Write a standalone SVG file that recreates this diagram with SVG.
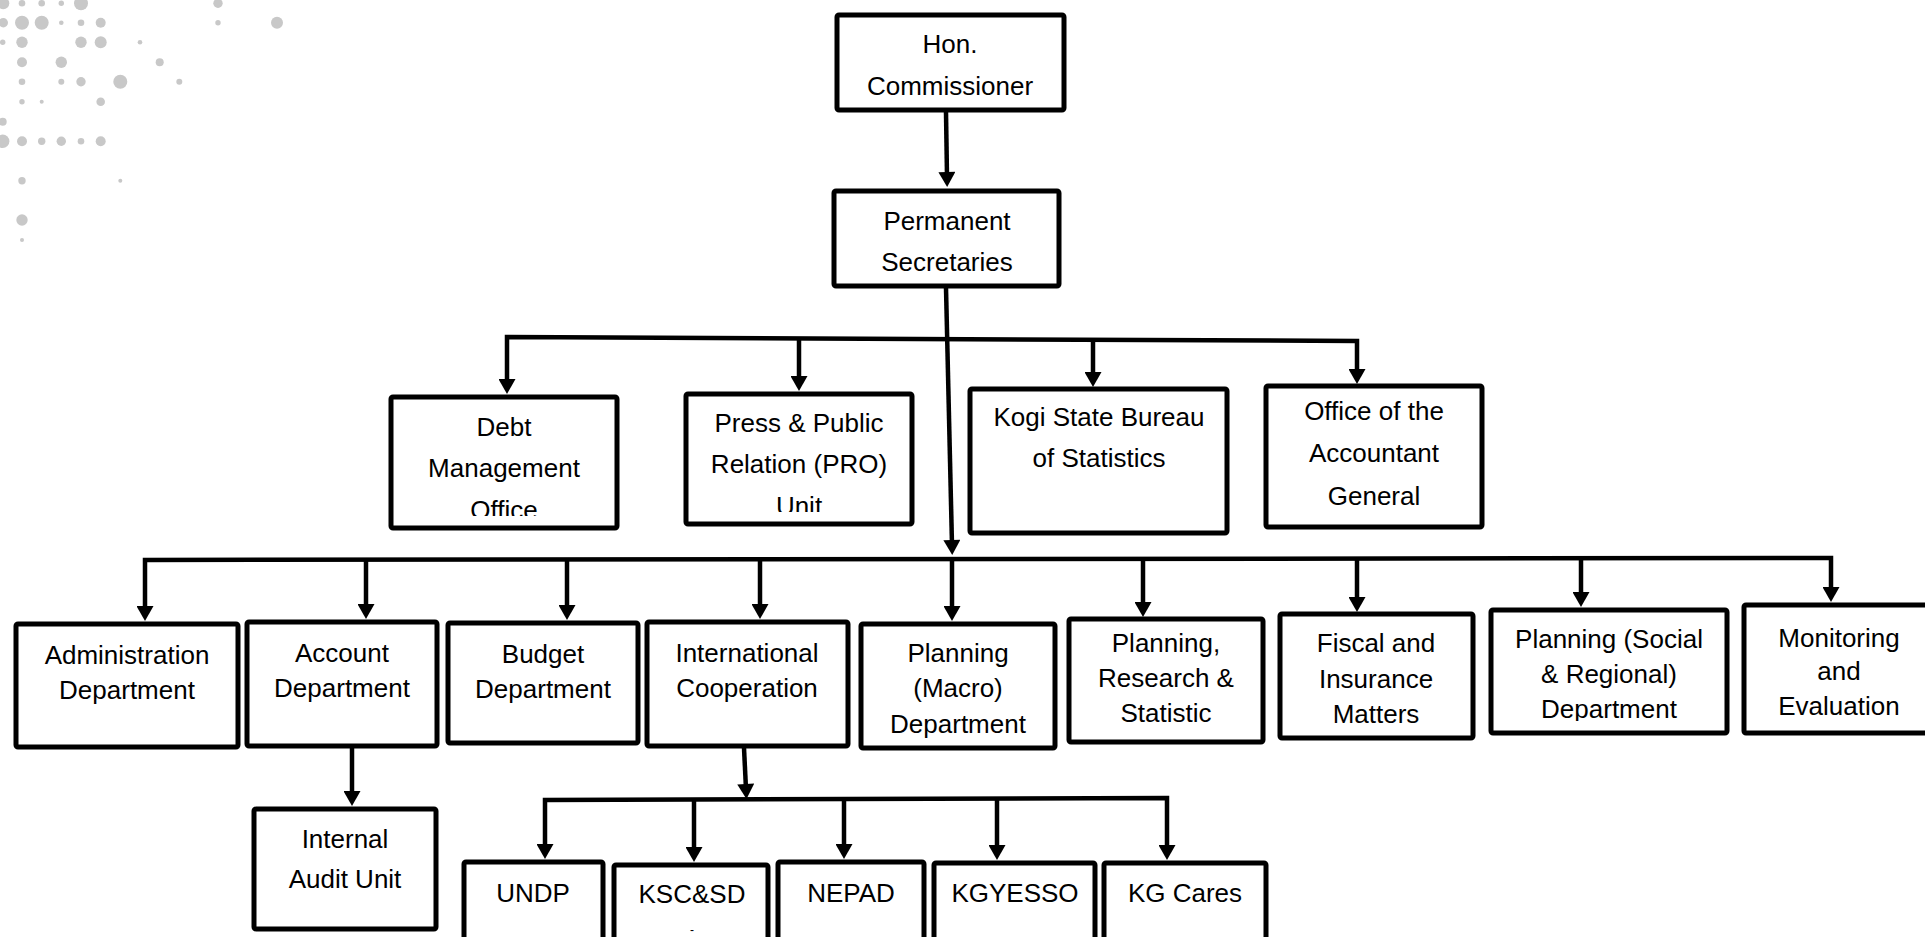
<svg xmlns="http://www.w3.org/2000/svg" width="1925" height="937" viewBox="0 0 1925 937">
<style>
.box{fill:#fff;stroke:#000;stroke-width:5}
.t{font-family:"Liberation Sans",Arial,sans-serif;font-size:26px;fill:#000;text-anchor:middle}
.c{fill:none;stroke:#000;stroke-width:4.5}
.dot{fill:#c8c8c8}
</style>
<defs>
<marker id="ah" markerUnits="userSpaceOnUse" markerWidth="17" markerHeight="17" refX="5" refY="8.5" orient="auto-start-reverse" viewBox="0 0 15 17">
<path d="M0,0 L15,8.5 L0,17 z" fill="#000"/>
</marker>
<clipPath id="clipDebt"><rect x="380" y="380" width="250" height="136"/></clipPath>
<clipPath id="clipPress"><rect x="680" y="380" width="240" height="132"/></clipPath>
<clipPath id="clipSocial"><rect x="1480" y="600" width="260" height="121"/></clipPath>
</defs>
<rect width="1925" height="937" fill="#fff"/>
<g id="background-dots">
<circle class="dot" cx="3.3" cy="3.3" r="6"/><circle class="dot" cx="22" cy="3.3" r="3.3"/><circle class="dot" cx="41.7" cy="3.3" r="3.3"/><circle class="dot" cx="61.3" cy="3.3" r="2.7"/><circle class="dot" cx="81" cy="3.3" r="7"/><circle class="dot" cx="218" cy="3.3" r="4.7"/>
<circle class="dot" cx="3.3" cy="22.7" r="4.7"/><circle class="dot" cx="22" cy="22.7" r="7"/><circle class="dot" cx="41.7" cy="22.7" r="7"/><circle class="dot" cx="61.3" cy="22.7" r="2.3"/><circle class="dot" cx="81" cy="22.7" r="3.3"/><circle class="dot" cx="100.7" cy="22.7" r="5"/><circle class="dot" cx="218" cy="22.7" r="2.7"/><circle class="dot" cx="277" cy="22.7" r="6"/>
<circle class="dot" cx="2.7" cy="42.3" r="2.7"/><circle class="dot" cx="22" cy="42.3" r="5.7"/><circle class="dot" cx="81" cy="42.3" r="5.7"/><circle class="dot" cx="100.7" cy="42.3" r="6"/><circle class="dot" cx="140" cy="42.3" r="2.3"/>
<circle class="dot" cx="22" cy="62.3" r="5"/><circle class="dot" cx="61.3" cy="62.3" r="5.7"/><circle class="dot" cx="159.7" cy="62.3" r="4"/>
<circle class="dot" cx="22" cy="81.7" r="3.3"/><circle class="dot" cx="61.3" cy="81.7" r="3"/><circle class="dot" cx="81" cy="81.7" r="4.7"/><circle class="dot" cx="120.3" cy="81.7" r="7"/><circle class="dot" cx="179.3" cy="81.7" r="3"/>
<circle class="dot" cx="22" cy="101.7" r="2.7"/><circle class="dot" cx="41.7" cy="101.7" r="2"/><circle class="dot" cx="100.7" cy="101.7" r="4.3"/>
<circle class="dot" cx="2.7" cy="121.7" r="4"/>
<circle class="dot" cx="2.7" cy="141.3" r="6.7"/><circle class="dot" cx="22" cy="141.3" r="5"/><circle class="dot" cx="41.7" cy="141.3" r="3.7"/><circle class="dot" cx="61.3" cy="141.3" r="4.7"/><circle class="dot" cx="81" cy="141.3" r="3.3"/><circle class="dot" cx="100.7" cy="141.3" r="5"/>
<circle class="dot" cx="22" cy="180.7" r="3.7"/><circle class="dot" cx="120.3" cy="180.7" r="2"/>
<circle class="dot" cx="22" cy="220" r="5.7"/>
<circle class="dot" cx="22" cy="240" r="2"/>
</g>
<g id="connectors">
<path class="c" d="M946,112 L947,177" marker-end="url(#ah)"/>
<path class="c" d="M946,288 L952,545" marker-end="url(#ah)"/>
<path class="c" d="M507,384 V337 L1357,341 V374" marker-start="url(#ah)" marker-end="url(#ah)"/>
<path class="c" d="M799,338 V381" marker-end="url(#ah)"/>
<path class="c" d="M1093,340 V377" marker-end="url(#ah)"/>
<path class="c" d="M145,611 V560 L1831,558 V592" marker-start="url(#ah)" marker-end="url(#ah)"/>
<path class="c" d="M366,560 V609" marker-end="url(#ah)"/>
<path class="c" d="M567,560 V610" marker-end="url(#ah)"/>
<path class="c" d="M760,560 V609" marker-end="url(#ah)"/>
<path class="c" d="M952,559 V611" marker-end="url(#ah)"/>
<path class="c" d="M1143,559 V607" marker-end="url(#ah)"/>
<path class="c" d="M1357,559 V602" marker-end="url(#ah)"/>
<path class="c" d="M1581,558 V597" marker-end="url(#ah)"/>
<path class="c" d="M352,748 V796" marker-end="url(#ah)"/>
<path class="c" d="M744,748 L746,789" marker-end="url(#ah)"/>
<path class="c" d="M545,849 V800 L1167,798 V850" marker-start="url(#ah)" marker-end="url(#ah)"/>
<path class="c" d="M694,800 V852" marker-end="url(#ah)"/>
<path class="c" d="M844,799 V849" marker-end="url(#ah)"/>
<path class="c" d="M997,799 V850" marker-end="url(#ah)"/>
</g>
<g id="hon-commissioner"><rect class="box" x="837" y="15" width="227" height="95" rx="2"/><text class="t" x="950" y="53">Hon.</text><text class="t" x="950" y="95">Commissioner</text></g>
<g id="permanent-secretaries"><rect class="box" x="834" y="191" width="225" height="95" rx="2"/><text class="t" x="947" y="230">Permanent</text><text class="t" x="947" y="271">Secretaries</text></g>
<g id="debt-management"><rect class="box" x="391" y="397" width="226" height="131" rx="2"/><text class="t" x="504" y="436">Debt</text><text class="t" x="504" y="477">Management</text><text class="t" x="504" y="519" clip-path="url(#clipDebt)">Office</text></g>
<g id="press-pro"><rect class="box" x="686" y="394" width="226" height="130" rx="2"/><text class="t" x="799" y="432">Press &amp; Public</text><text class="t" x="799" y="473">Relation (PRO)</text><text class="t" x="799" y="515" clip-path="url(#clipPress)">Unit</text></g>
<g id="kogi-bureau"><rect class="box" x="970" y="389" width="257" height="144" rx="2"/><text class="t" x="1099" y="426">Kogi State Bureau</text><text class="t" x="1099" y="467">of Statistics</text></g>
<g id="accountant-general"><rect class="box" x="1266" y="386" width="216" height="141" rx="2"/><text class="t" x="1374" y="420">Office of the</text><text class="t" x="1374" y="462">Accountant</text><text class="t" x="1374" y="505">General</text></g>
<g id="administration"><rect class="box" x="16" y="624" width="222" height="123" rx="2"/><text class="t" x="127" y="664">Administration</text><text class="t" x="127" y="699">Department</text></g>
<g id="account"><rect class="box" x="247" y="622" width="190" height="124" rx="2"/><text class="t" x="342" y="662">Account</text><text class="t" x="342" y="697">Department</text></g>
<g id="budget"><rect class="box" x="448" y="623" width="190" height="120" rx="2"/><text class="t" x="543" y="663">Budget</text><text class="t" x="543" y="698">Department</text></g>
<g id="international-cooperation"><rect class="box" x="647" y="622" width="201" height="124" rx="2"/><text class="t" x="747" y="662">International</text><text class="t" x="747" y="697">Cooperation</text></g>
<g id="planning-macro"><rect class="box" x="861" y="624" width="194" height="124" rx="2"/><text class="t" x="958" y="662">Planning</text><text class="t" x="958" y="697">(Macro)</text><text class="t" x="958" y="733">Department</text></g>
<g id="planning-research"><rect class="box" x="1069" y="619" width="194" height="123" rx="2"/><text class="t" x="1166" y="652">Planning,</text><text class="t" x="1166" y="687">Research &amp;</text><text class="t" x="1166" y="722">Statistic</text></g>
<g id="fiscal-insurance"><rect class="box" x="1280" y="614" width="193" height="124" rx="2"/><text class="t" x="1376" y="652">Fiscal and</text><text class="t" x="1376" y="688">Insurance</text><text class="t" x="1376" y="723">Matters</text></g>
<g id="planning-social"><rect class="box" x="1491" y="610" width="236" height="123" rx="2"/><text class="t" x="1609" y="648">Planning (Social</text><text class="t" x="1609" y="683">&amp; Regional)</text><text class="t" x="1609" y="718" clip-path="url(#clipSocial)">Department</text></g>
<g id="monitoring-evaluation"><rect class="box" x="1744" y="605" width="200" height="128" rx="2"/><text class="t" x="1839" y="647">Monitoring</text><text class="t" x="1839" y="680">and</text><text class="t" x="1839" y="715">Evaluation</text></g>
<g id="internal-audit"><rect class="box" x="254" y="809" width="182" height="120" rx="2"/><text class="t" x="345" y="848">Internal</text><text class="t" x="345" y="888">Audit Unit</text></g>
<g id="undp"><rect class="box" x="464" y="862" width="139" height="100" rx="2"/><text class="t" x="533" y="902">UNDP</text></g>
<g id="ksc-sd"><rect class="box" x="614" y="865" width="154" height="100" rx="2"/><text class="t" x="692" y="903">KSC&amp;SD</text><text class="t" x="692" y="934" style="font-size:12px">-</text></g>
<g id="nepad"><rect class="box" x="778" y="862" width="146" height="100" rx="2"/><text class="t" x="851" y="902">NEPAD</text></g>
<g id="kgyesso"><rect class="box" x="934" y="863" width="161" height="100" rx="2"/><text class="t" x="1015" y="902">KGYESSO</text></g>
<g id="kg-cares"><rect class="box" x="1104" y="863" width="162" height="100" rx="2"/><text class="t" x="1185" y="902">KG Cares</text></g>
</svg>
